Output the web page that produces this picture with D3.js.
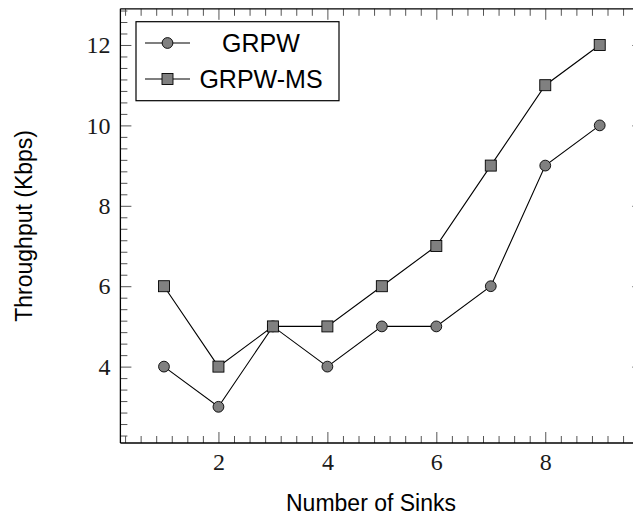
<!DOCTYPE html>
<html>
<head>
<meta charset="utf-8">
<script src="https://cdn.jsdelivr.net/npm/d3@7"></script>
<style>
  body { margin: 0; background: #fff; overflow: hidden; }
  svg { display: block; overflow: hidden; }
</style>
</head>
<body>
<script>
const chartWidth = 633;
const chartHeight = 518;

const sinks = [1, 2, 3, 4, 5, 6, 7, 8, 9];
const grpw = [4, 3, 5, 4, 5, 5, 6, 9, 10];
const grpwMs = [6, 4, 5, 5, 6, 7, 9, 11, 12];
const xMajorTicks = [2, 4, 6, 8];
const yMajorTicks = [4, 6, 8, 10, 12];
const seriesNames = ['GRPW', 'GRPW-MS'];

const plotLeft = 120.4;
const plotRight = 643.3;
const plotTop = 8.8;
const plotBottom = 443;
const majorLen = 11;
const minorLen = 7;
const markerFill = '#808080';
const serifFont = '"Liberation Serif", "DejaVu Serif", serif';
const sansFont = '"Liberation Sans", Arial, sans-serif';

const xScale = d3.scaleLinear()
                .domain([0.2, 9.8])
                .range([plotLeft, plotRight]);

const yScale = d3.scaleLinear()
                .domain([2.1, 12.9])
                .range([plotBottom, plotTop]);

// minor ticks every 2/7 between majors (pgfplots minor tick num=6)
function minorTicks(domain) {
  const ticks = [];
  for (let major = 0; major <= 14; major += 2) {
    for (let k = 1; k <= 6; k += 1) {
      const v = major + k * 2 / 7;
      if (v > domain[0] && v < domain[1]) ticks.push(v);
    }
  }
  return ticks;
}

const svg = d3.select('body')
              .append('svg')
              .attr('width', chartWidth)
              .attr('height', chartHeight);

function addAxis(axis, transform, showLabels) {
  const g = svg.append('g')
      .attr('transform', transform)
      .call(axis);
  g.select('.domain').remove();
  g.selectAll('.tick line').attr('stroke', '#555').attr('stroke-width', 1);
  g.selectAll('text')
      .attr('fill', '#1a1a1a')
      .style('font-family', serifFont)
      .style('font-size', '24px');
  if (!showLabels) g.selectAll('text').remove();
  return g;
}

// bottom / top axes
addAxis(d3.axisBottom(xScale).tickValues(xMajorTicks).tickSizeInner(-majorLen).tickSizeOuter(0)
        .tickPadding(10).tickFormat(d3.format('d')), `translate(0,${plotBottom})`, true);
addAxis(d3.axisBottom(xScale).tickValues(minorTicks(xScale.domain())).tickSizeInner(-minorLen).tickSizeOuter(0),
        `translate(0,${plotBottom})`, false);
addAxis(d3.axisTop(xScale).tickValues(xMajorTicks).tickSizeInner(-majorLen).tickSizeOuter(0),
        `translate(0,${plotTop})`, false);
addAxis(d3.axisTop(xScale).tickValues(minorTicks(xScale.domain())).tickSizeInner(-minorLen).tickSizeOuter(0),
        `translate(0,${plotTop})`, false);

// left / right axes
addAxis(d3.axisLeft(yScale).tickValues(yMajorTicks).tickSizeInner(-majorLen).tickSizeOuter(0)
        .tickPadding(10).tickFormat(d3.format('d')), `translate(${plotLeft},0)`, true);
addAxis(d3.axisLeft(yScale).tickValues(minorTicks(yScale.domain())).tickSizeInner(-minorLen).tickSizeOuter(0),
        `translate(${plotLeft},0)`, false);
addAxis(d3.axisRight(yScale).tickValues(yMajorTicks).tickSizeInner(-majorLen).tickSizeOuter(0),
        `translate(${plotRight},0)`, false);
addAxis(d3.axisRight(yScale).tickValues(minorTicks(yScale.domain())).tickSizeInner(-minorLen).tickSizeOuter(0),
        `translate(${plotRight},0)`, false);

// frame: left, top and bottom edges (the right edge falls outside the picture)
const frame = [
  [plotLeft, plotTop, plotLeft, plotBottom],
  [plotLeft, plotTop, plotRight, plotTop],
  [plotLeft, plotBottom, plotRight, plotBottom]
];
svg.selectAll('line.frame')
    .data(frame)
    .enter()
    .append('line')
    .attr('class', 'frame')
    .attr('x1', d => d[0])
    .attr('y1', d => d[1])
    .attr('x2', d => d[2])
    .attr('y2', d => d[3])
    .attr('stroke', '#000')
    .attr('stroke-width', 1.3);

const line = d3.line()
    .x(d => xScale(d[0]))
    .y(d => yScale(d[1]));

const seriesData = [grpw, grpwMs].map(values => sinks.map((s, i) => [s, values[i]]));

seriesData.forEach((points, si) => {
  svg.append('path')
      .datum(points)
      .attr('d', line)
      .attr('fill', 'none')
      .attr('stroke', '#000')
      .attr('stroke-width', 1.1);
  drawMarkers(svg, points.map(d => [xScale(d[0]), yScale(d[1])]), si);
});

function drawMarkers(parent, coords, si) {
  if (si === 0) {
    parent.selectAll(null)
        .data(coords)
        .enter()
        .append('circle')
        .attr('cx', d => d[0])
        .attr('cy', d => d[1])
        .attr('r', 5.4)
        .attr('fill', markerFill)
        .attr('stroke', '#000')
        .attr('stroke-width', 0.9);
  } else {
    parent.selectAll(null)
        .data(coords)
        .enter()
        .append('rect')
        .attr('x', d => d[0] - 5.5)
        .attr('y', d => d[1] - 5.5)
        .attr('width', 11)
        .attr('height', 11)
        .attr('fill', markerFill)
        .attr('stroke', '#000')
        .attr('stroke-width', 0.9);
  }
}

// legend
const legend = svg.append('g');
legend.append('rect')
    .attr('x', 136)
    .attr('y', 21.7)
    .attr('width', 203)
    .attr('height', 79)
    .attr('fill', '#fff')
    .attr('stroke', '#000')
    .attr('stroke-width', 1.2);

seriesNames.forEach((name, i) => {
  const cy = 43 + i * 36;
  legend.append('line')
      .attr('x1', 145)
      .attr('x2', 190)
      .attr('y1', cy)
      .attr('y2', cy)
      .attr('stroke', '#000')
      .attr('stroke-width', 1.1);
  drawMarkers(legend, [[167.5, cy]], i);
  legend.append('text')
      .attr('x', 261)
      .attr('y', cy)
      .attr('text-anchor', 'middle')
      .attr('dominant-baseline', 'central')
      .style('font-family', sansFont)
      .style('font-size', '25px')
      .text(name);
});

// axis titles
svg.append('text')
    .attr('x', 371)
    .attr('y', 511)
    .attr('text-anchor', 'middle')
    .style('font-family', sansFont)
    .style('font-size', '23px')
    .text('Number of Sinks');

svg.append('text')
    .attr('transform', `translate(32,${(plotTop + plotBottom) / 2}) rotate(-90)`)
    .attr('text-anchor', 'middle')
    .style('font-family', sansFont)
    .style('font-size', '23px')
    .text('Throughput (Kbps)');
</script>
</body>
</html>
